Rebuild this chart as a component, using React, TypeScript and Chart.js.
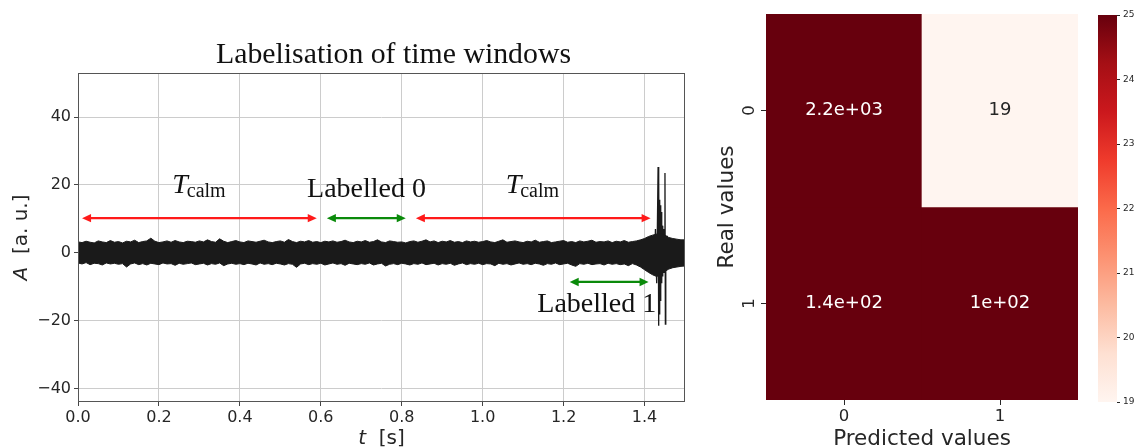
import React, { useEffect, useRef } from 'react';
import { Chart, registerables } from 'chart.js';

Chart.register(...registerables);

// ---------------- Left panel data ----------------
const TITLE = 'Labelisation of time windows';
const X_TICKS = [0, 0.2, 0.4, 0.6, 0.8, 1.0, 1.2, 1.4];
const Y_TICKS = [-40, -20, 0, 20, 40];
const X_MIN = 0;
const X_MAX = 1.5;
const Y_MIN = -44;
const Y_MAX = 53;
const T_STEP = 0.01;

// upper / lower envelope of the dense noise signal, one value every 0.01 s
const upperEnvelope = [
  3.2, 3.0, 3.4, 3.1, 2.9, 3.5, 3.2, 3.0, 3.6, 3.1,
  3.3, 2.9, 3.4, 3.2, 3.7, 3.0, 3.3, 3.5, 4.3, 3.4,
  3.0, 3.2, 3.5, 3.1, 3.6, 3.2, 3.0, 3.4, 3.3, 3.1,
  3.5, 3.2, 3.8, 3.3, 3.1, 4.1, 3.4, 3.0, 3.3, 3.6,
  3.2, 3.0, 3.5, 3.3, 3.1, 3.4, 3.7, 3.2, 3.0, 3.3,
  3.5, 3.1, 3.9, 3.3, 3.0, 3.4, 3.2, 3.6, 3.1, 3.3,
  3.0, 3.4, 3.2, 3.5, 3.1, 3.3, 3.7, 3.2, 3.0, 3.4,
  3.2, 3.6, 3.1, 3.3, 3.8, 3.2, 3.0, 3.5, 3.3, 3.1,
  3.2, 2.9, 3.3, 3.5, 3.1, 3.4, 3.8, 3.2, 3.5, 3.0,
  3.4, 3.2, 3.6, 3.1, 3.3, 3.0, 3.5, 3.2, 3.4, 3.1,
  3.3, 3.6, 3.2, 3.0, 3.4, 3.8, 3.1, 3.3, 3.5, 3.2,
  3.0, 3.4, 3.2, 3.7, 3.1, 3.3, 3.5, 3.0, 3.2, 3.4,
  3.6, 3.1, 3.3, 3.0, 3.5, 3.2, 3.4, 3.7, 3.1, 3.3,
  3.2, 3.5, 3.0, 3.4, 3.2, 3.6, 3.1, 3.3, 3.5, 3.8,
  4.2, 4.8, 5.2, 5.5, 5.8, 5.2, 4.5, 4.2, 4.0, 3.8,
  3.8,
];
const lowerEnvelope = [
  -3.0, -3.3, -2.9, -3.5, -3.1, -3.2, -3.6, -3.0, -3.3, -3.1,
  -3.4, -3.2, -4.2, -3.3, -3.0, -3.5, -3.2, -3.6, -3.1, -3.3,
  -3.5, -3.0, -3.3, -3.2, -3.7, -3.1, -3.4, -3.2, -3.0, -3.5,
  -3.3, -3.1, -3.6, -3.2, -3.4, -3.0, -3.8, -3.3, -3.1, -3.4,
  -3.2, -3.5, -3.1, -3.3, -3.6, -3.0, -3.4, -3.2, -3.5, -3.1,
  -3.3, -3.6, -3.2, -3.4, -4.3, -3.3, -3.1, -3.5, -3.2, -3.4,
  -3.1, -3.6, -3.3, -3.0, -3.4, -3.2, -3.7, -3.1, -3.3, -3.5,
  -3.2, -3.4, -3.0, -3.6, -3.3, -3.1, -3.9, -3.4, -3.2, -3.5,
  -3.1, -3.3, -3.6, -3.2, -3.4, -3.0, -3.5, -3.3, -3.1, -3.6,
  -3.2, -3.4, -3.1, -3.7, -3.3, -3.0, -3.5, -3.2, -3.4, -3.1,
  -3.5, -3.2, -3.3, -3.8, -3.1, -3.4, -3.2, -3.6, -3.3, -3.0,
  -3.4, -3.2, -3.5, -3.1, -3.3, -3.7, -3.2, -3.4, -3.0, -3.5,
  -3.3, -3.1, -3.6, -4.0, -3.2, -3.4, -3.1, -3.5, -3.3, -3.2,
  -3.6, -3.1, -3.4, -3.2, -3.5, -3.3, -3.8, -3.2, -3.6, -4.2,
  -5.0, -5.8, -6.5, -7.0, -6.5, -5.5, -4.8, -4.4, -4.2, -4.0,
  -3.9,
];

// the event burst near t = 1.43 s
const burstTimes = [
  1.420, 1.424, 1.427, 1.430, 1.432, 1.4335, 1.4345, 1.4355, 1.4365, 1.4375,
  1.4385, 1.4395, 1.4405, 1.4415, 1.4425, 1.4435, 1.445, 1.4465, 1.448, 1.4495,
  1.4505, 1.4515, 1.4525, 1.454, 1.456, 1.459, 1.462,
];
const burstAmps = [
  4, -6, 7, -9, 10, 25.3, -21.5, 22, -18, 15.6,
  -14, 14, -11, 12, -9, 8, -7, 7, -6, 6,
  23.5, -21, 5, -5, 5, -4.5, 4,
];

// double arrows (data coordinates)
const arrowStart = [0.01, 0.615, 0.835, 1.215];
const arrowEnd = [0.59, 0.81, 1.415, 1.41];
const arrowY = [10.2, 10.2, 10.2, -8.6];
const arrowColor = ['#ff1a1a', '#0a8a0a', '#ff1a1a', '#0a8a0a'];

// text annotations (x = centre, y = baseline, data coordinates)
const noteText = ['T_calm', 'Labelled 0', 'T_calm', 'Labelled 1'];
const noteX = [0.30, 0.713, 1.124, 1.282];
const noteY = [17.6, 16.5, 17.6, -17.6];

// ---------------- Right panel data ----------------
const predictedLabels = ['0', '1'];
const realLabels = ['0', '1'];
const confusion = [
  [2200, 19],
  [140, 100],
];
const CB_MIN = 19;
const CB_MAX = 25;
const CB_TICKS = [19, 20, 21, 22, 23, 24, 25];

const REDS = ['#fff5f0', '#fee0d2', '#fcbba1', '#fc9272', '#fb6a4a', '#ef3b2c', '#cb181d', '#a50f15', '#67000d'];

const SANS = '"DejaVu Sans"';
const SERIF = '"Liberation Serif"';
const TEXT_COLOR = '#262626';

function hexToRgb(h: string): number[] {
  const n = parseInt(h.slice(1), 16);
  return [(n >> 16) & 255, (n >> 8) & 255, n & 255];
}
function redsRgb(t: number): number[] {
  const tt = Math.max(0, Math.min(1, t));
  const p = tt * (REDS.length - 1);
  const i = Math.min(Math.floor(p), REDS.length - 2);
  const f = p - i;
  const a = hexToRgb(REDS[i]);
  const b = hexToRgb(REDS[i + 1]);
  return a.map((v, k) => Math.round(v + (b[k] - v) * f));
}
function cellRgb(v: number): number[] {
  return redsRgb((v - CB_MIN) / (CB_MAX - CB_MIN));
}
function rgbStr(c: number[]): string {
  return `rgb(${c[0]},${c[1]},${c[2]})`;
}
function luminance(c: number[]): number {
  const lin = c.map((v) => {
    const s = v / 255;
    return s <= 0.03928 ? s / 12.92 : Math.pow((s + 0.055) / 1.055, 2.4);
  });
  return 0.2126 * lin[0] + 0.7152 * lin[1] + 0.0722 * lin[2];
}
function fmtG2(v: number): string {
  if (v === 0) return '0';
  const e = Math.floor(Math.log10(Math.abs(v)));
  if (e < -4 || e >= 2) {
    const m = (v / Math.pow(10, e)).toFixed(1).replace(/\.0$/, '');
    return m + 'e' + (e < 0 ? '-' : '+') + String(Math.abs(e)).padStart(2, '0');
  }
  return String(parseFloat(v.toPrecision(2)));
}

function drawDoubleArrow(ctx: CanvasRenderingContext2D, x1: number, x2: number, y: number, color: string) {
  const hl = 9;
  const hw = 4.2;
  ctx.strokeStyle = color;
  ctx.fillStyle = color;
  ctx.lineWidth = 2.2;
  ctx.beginPath();
  ctx.moveTo(x1 + hl - 1, y);
  ctx.lineTo(x2 - hl + 1, y);
  ctx.stroke();
  ctx.beginPath();
  ctx.moveTo(x1, y);
  ctx.lineTo(x1 + hl, y - hw);
  ctx.lineTo(x1 + hl, y + hw);
  ctx.closePath();
  ctx.fill();
  ctx.beginPath();
  ctx.moveTo(x2, y);
  ctx.lineTo(x2 - hl, y - hw);
  ctx.lineTo(x2 - hl, y + hw);
  ctx.closePath();
  ctx.fill();
}

function drawNote(ctx: CanvasRenderingContext2D, text: string, cx: number, by: number) {
  ctx.fillStyle = '#111';
  ctx.textBaseline = 'alphabetic';
  ctx.textAlign = 'left';
  if (text.includes('_')) {
    const [main, sub] = text.split('_');
    const fMain = `italic 28px ${SERIF}`;
    const fSub = `20px ${SERIF}`;
    ctx.font = fMain;
    const wM = ctx.measureText(main).width;
    ctx.font = fSub;
    const wS = ctx.measureText(sub).width;
    const x0 = cx - (wM + wS) / 2;
    ctx.font = fMain;
    ctx.fillText(main, x0, by);
    ctx.font = fSub;
    ctx.fillText(sub, x0 + wM - 1, by + 3.5);
  } else {
    ctx.font = `28px ${SERIF}`;
    ctx.textAlign = 'center';
    ctx.fillText(text, cx, by);
  }
}

function drawMixed(ctx: CanvasRenderingContext2D, parts: [string, string][], cx: number, by: number) {
  let total = 0;
  const widths = parts.map(([t, f]) => {
    ctx.font = f;
    const w = ctx.measureText(t).width;
    total += w;
    return w;
  });
  let x = cx - total / 2;
  ctx.textAlign = 'left';
  ctx.textBaseline = 'alphabetic';
  parts.forEach(([t, f], i) => {
    ctx.font = f;
    ctx.fillText(t, x, by);
    x += widths[i];
  });
}

const signalDecor = {
  id: 'signalDecor',
  afterDatasetsDraw(chart: any) {
    const { ctx, scales } = chart;
    const x = scales.x;
    const y = scales.y;
    ctx.save();
    arrowStart.forEach((s, i) => {
      drawDoubleArrow(ctx, x.getPixelForValue(s), x.getPixelForValue(arrowEnd[i]), y.getPixelForValue(arrowY[i]), arrowColor[i]);
    });
    noteText.forEach((t, i) => {
      drawNote(ctx, t, x.getPixelForValue(noteX[i]), y.getPixelForValue(noteY[i]));
    });
    ctx.restore();
  },
  afterDraw(chart: any) {
    const { ctx, chartArea: a } = chart;
    ctx.save();
    ctx.strokeStyle = '#555';
    ctx.lineWidth = 1;
    ctx.strokeRect(a.left + 0.5, a.top + 0.5, a.right - a.left - 1, a.bottom - a.top - 1);
    ctx.fillStyle = '#111';
    ctx.font = `29.8px ${SERIF}`;
    ctx.textAlign = 'center';
    ctx.textBaseline = 'alphabetic';
    ctx.fillText(TITLE, (a.left + a.right) / 2 + 12, 63);
    ctx.fillStyle = TEXT_COLOR;
    drawMixed(ctx, [['t', `italic 20px ${SANS}`], ['  [s]', `20px ${SANS}`]], (a.left + a.right) / 2, 444);
    ctx.save();
    ctx.translate(27, (a.top + a.bottom) / 2);
    ctx.rotate(-Math.PI / 2);
    drawMixed(ctx, [['A', `italic 20px ${SANS}`], ['  [a. u.]', `20px ${SANS}`]], 0, 0);
    ctx.restore();
    ctx.restore();
  },
};

const heatDecor = {
  id: 'heatDecor',
  afterDatasetsDraw(chart: any) {
    const { ctx } = chart;
    ctx.save();
    ctx.font = `18px ${SANS}`;
    ctx.textAlign = 'center';
    ctx.textBaseline = 'middle';
    realLabels.forEach((_, ri) => {
      const meta = chart.getDatasetMeta(ri);
      meta.data.forEach((bar: any, pi: number) => {
        const v = confusion[ri][pi];
        const c = cellRgb(v);
        ctx.fillStyle = luminance(c) > 0.408 ? TEXT_COLOR : '#ffffff';
        const p = bar.getCenterPoint();
        ctx.fillText(fmtG2(v), p.x, p.y);
      });
    });
    ctx.restore();
  },
  afterDraw(chart: any) {
    const { ctx, chartArea: a, scales } = chart;
    ctx.save();
    ctx.fillStyle = TEXT_COLOR;
    ctx.font = `16.5px ${SANS}`;
    realLabels.forEach((r, ri) => {
      const py = scales.y.getPixelForValue(ri + 0.5);
      ctx.save();
      ctx.translate(a.left - 12, py);
      ctx.rotate(-Math.PI / 2);
      ctx.textAlign = 'center';
      ctx.textBaseline = 'alphabetic';
      ctx.fillText(r, 0, 0);
      ctx.restore();
    });
    ctx.font = `21.5px ${SANS}`;
    ctx.textAlign = 'center';
    ctx.textBaseline = 'alphabetic';
    ctx.fillText('Predicted values', (a.left + a.right) / 2, 445);
    ctx.save();
    ctx.translate(33, (a.top + a.bottom) / 2);
    ctx.rotate(-Math.PI / 2);
    ctx.fillText('Real values', 0, 0);
    ctx.restore();
    ctx.restore();
  },
};

// paints the colour bar with the Reds gradient, positioned through the y scale
const colorbarFill = {
  id: 'colorbarFill',
  beforeDatasetsDraw(chart: any) {
    const ys = chart.scales.y;
    const y0 = ys.getPixelForValue(CB_MIN);
    const y1 = ys.getPixelForValue(CB_MAX);
    if (!isFinite(y0) || !isFinite(y1)) return;
    const g = chart.ctx.createLinearGradient(0, y0, 0, y1);
    REDS.forEach((col, i) => g.addColorStop(i / (REDS.length - 1), col));
    const meta = chart.getDatasetMeta(0);
    meta.data.forEach((el: any) => {
      el.options.backgroundColor = g;
    });
  },
};

function makeSignalChart(canvas: HTMLCanvasElement) {
  const upperPts = upperEnvelope.map((v, i) => ({ x: +(i * T_STEP).toFixed(2), y: v }));
  const lowerPts = lowerEnvelope.map((v, i) => ({ x: +(i * T_STEP).toFixed(2), y: v }));
  const burstPts = burstTimes.map((t, i) => ({ x: t, y: burstAmps[i] }));
  return new Chart(canvas, {
    type: 'line',
    data: {
      datasets: [
        { data: upperPts, fill: '+1', backgroundColor: '#1a1a1a', borderColor: '#1a1a1a', borderWidth: 1, pointRadius: 0, tension: 0 },
        { data: lowerPts, fill: false, borderColor: '#1a1a1a', borderWidth: 1, pointRadius: 0, tension: 0 },
        { data: burstPts, fill: false, borderColor: '#1a1a1a', borderWidth: 1.3, pointRadius: 0, tension: 0 },
      ],
    },
    options: {
      animation: false,
      responsive: false,
      events: [],
      layout: { padding: { left: 0, top: 73, right: 15, bottom: 0 } },
      plugins: { legend: { display: false }, tooltip: { enabled: false }, title: { display: false } },
      scales: {
        x: {
          type: 'linear',
          min: X_MIN,
          max: X_MAX,
          afterBuildTicks: (s: any) => { s.ticks = X_TICKS.map((v) => ({ value: v })); },
          afterFit: (s: any) => { s.height = 46; },
          ticks: { callback: (v: any) => Number(v).toFixed(1), font: { family: 'DejaVu Sans', size: 16 }, color: TEXT_COLOR, padding: 2, maxRotation: 0, autoSkip: false },
          grid: { color: '#cccccc', lineWidth: 1, tickLength: 4, tickColor: '#444' },
          border: { display: false },
        },
        y: {
          type: 'linear',
          min: Y_MIN,
          max: Y_MAX,
          afterBuildTicks: (s: any) => { s.ticks = Y_TICKS.map((v) => ({ value: v })); },
          afterFit: (s: any) => { s.width = 78; },
          ticks: { callback: (v: any) => String(v).replace('-', '\u2212'), font: { family: 'DejaVu Sans', size: 16 }, color: TEXT_COLOR, padding: 3, autoSkip: false },
          grid: { color: '#cccccc', lineWidth: 1, tickLength: 4, tickColor: '#444' },
          border: { display: false },
        },
      },
    } as any,
    plugins: [signalDecor],
  });
}

function makeHeatmap(canvas: HTMLCanvasElement) {
  return new Chart(canvas, {
    type: 'bar',
    data: {
      labels: predictedLabels,
      datasets: realLabels.map((r, ri) => ({
        label: 'Real ' + r,
        data: predictedLabels.map(() => [ri, ri + 1]),
        backgroundColor: confusion[ri].map((v) => rgbStr(cellRgb(v))),
        borderWidth: 0,
        barPercentage: 1,
        categoryPercentage: 1,
        grouped: false,
      })),
    } as any,
    options: {
      animation: false,
      responsive: false,
      events: [],
      layout: { padding: { left: 0, top: 14, right: 12, bottom: 0 } },
      plugins: { legend: { display: false }, tooltip: { enabled: false } },
      scales: {
        x: {
          type: 'category',
          offset: true,
          afterFit: (s: any) => { s.height = 48; },
          ticks: { font: { family: 'DejaVu Sans', size: 16.5 }, color: TEXT_COLOR, padding: 2 },
          grid: { offset: false, drawOnChartArea: false, tickLength: 5, tickColor: TEXT_COLOR, color: TEXT_COLOR },
          border: { display: false },
        },
        y: {
          type: 'linear',
          min: 0,
          max: realLabels.length,
          reverse: true,
          afterBuildTicks: (s: any) => { s.ticks = realLabels.map((_, i) => ({ value: i + 0.5 })); },
          afterFit: (s: any) => { s.width = 66; },
          ticks: { display: false },
          grid: { drawOnChartArea: false, tickLength: 5, tickColor: TEXT_COLOR, color: TEXT_COLOR },
          border: { display: false },
        },
      },
    } as any,
    plugins: [heatDecor],
  });
}

function makeColorbar(canvas: HTMLCanvasElement) {
  return new Chart(canvas, {
    type: 'bar',
    data: {
      labels: ['scale'],
      datasets: [
        {
          data: [[CB_MIN, CB_MAX]],
          borderWidth: 0,
          barPercentage: 1,
          categoryPercentage: 1,
          backgroundColor: REDS[4],
        },
      ],
    } as any,
    options: {
      animation: false,
      responsive: false,
      events: [],
      layout: { padding: { left: 8, top: 15, right: 0, bottom: 46 } },
      plugins: { legend: { display: false }, tooltip: { enabled: false } },
      scales: {
        x: { display: false },
        y: {
          position: 'right',
          min: CB_MIN,
          max: CB_MAX,
          afterBuildTicks: (s: any) => { s.ticks = CB_TICKS.map((v) => ({ value: v })); },
          afterFit: (s: any) => { s.width = 18; },
          ticks: { font: { family: 'DejaVu Sans', size: 9 }, color: TEXT_COLOR, padding: 3 },
          grid: { drawOnChartArea: false, tickLength: 3, tickColor: TEXT_COLOR, color: TEXT_COLOR },
          border: { display: false },
        },
      },
    } as any,
    plugins: [colorbarFill],
  });
}

export default function App() {
  const leftRef = useRef<HTMLCanvasElement>(null);
  const hmRef = useRef<HTMLCanvasElement>(null);
  const cbRef = useRef<HTMLCanvasElement>(null);
  useEffect(() => {
    const charts = [
      makeSignalChart(leftRef.current!),
      makeHeatmap(hmRef.current!),
      makeColorbar(cbRef.current!),
    ];
    return () => charts.forEach((c) => c.destroy());
  }, []);
  return (
    <div style={{ position: 'fixed', left: 0, top: 0, width: 1135, height: 448, background: '#fff', overflow: 'hidden' }}>
      <canvas ref={leftRef} width={700} height={448} style={{ position: 'absolute', left: 0, top: 0 }} />
      <canvas ref={hmRef} width={390} height={448} style={{ position: 'absolute', left: 700, top: 0 }} />
      <canvas ref={cbRef} width={45} height={448} style={{ position: 'absolute', left: 1090, top: 0 }} />
    </div>
  );
}
